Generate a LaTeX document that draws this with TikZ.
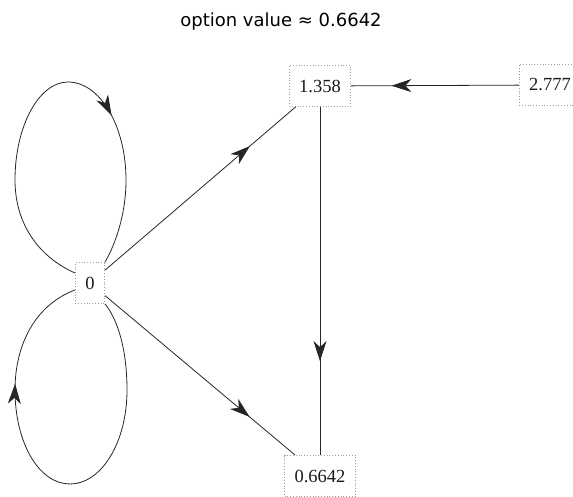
\documentclass[tikz,border=0pt]{standalone}
\usepackage{fontspec}
\setmainfont{Liberation Serif}
\newfontfamily\titlefont{DejaVu Sans}
\usetikzlibrary{arrows.meta,decorations.markings}
\tikzset{
  vbox/.style={draw=gray!75, dotted, line width=0.8pt, inner xsep=10pt, inner ysep=0pt,
    minimum height=41pt, font=\fontsize{18.5}{20}\selectfont, text=black!90},
  midarrow/.style={postaction={decorate, decoration={markings,
    mark=at position #1 with {\arrow{Stealth[length=20pt,width=13pt,inset=6pt]}}}}},
  edge/.style={draw=black!85, line width=0.8pt},
}
\begin{document}
\begin{tikzpicture}[x=1pt,y=-1pt]
\useasboundingbox (0,0) rectangle (573,497);
\node[font=\titlefont\fontsize{18}{20}\selectfont] (title) at (281,22) {option value ≈ 0.6642};
\node[vbox] (zero) at (90,283) {0};
\node[vbox] (a) at (320,86) {1.358};
\node[vbox] (b) at (550,85) {2.777};
\node[vbox] (c) at (320,476) {0.6642};
\draw[edge, midarrow=0.76] (zero) -- (a);
\draw[edge, midarrow=0.76] (zero) -- (c);
\draw[edge, midarrow=0.73] (a) -- (c);
\draw[edge, midarrow=0.76] (b) -- (a);
\draw[edge, midarrow=0.66] ([yshift=10pt]zero.west) .. controls (35,255) and (15,220) .. (15,180)
  .. controls (15,126) and (39,82) .. (68,82)
  .. controls (100,82) and (126,126) .. (126,180)
  .. controls (126,215) and (115,245) .. (zero.north east);
\draw[edge, midarrow=0.74] (zero.south east) .. controls (118,320) and (127,350) .. (127,390)
  .. controls (127,443) and (101,484) .. (70,484)
  .. controls (39,484) and (15,443) .. (15,390)
  .. controls (15,345) and (35,305) .. ([yshift=-7pt]zero.west);
\end{tikzpicture}
\end{document}
